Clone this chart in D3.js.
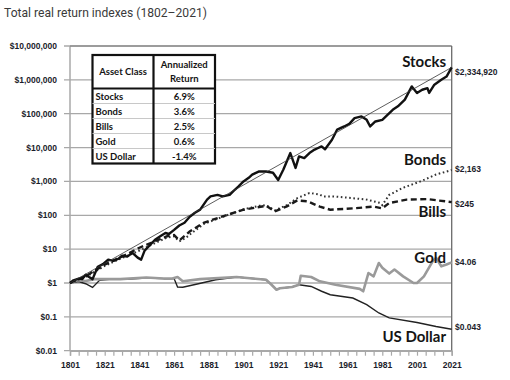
<!DOCTYPE html>
<html>
<head>
<meta charset="utf-8">
<script src="https://cdn.jsdelivr.net/npm/d3@7"></script>
<style>
  html, body { margin: 0; padding: 0; background: #fff; }
  svg { display: block; }
</style>
</head>
<body>
<svg id="chart" width="510" height="380"></svg>
<script>
// ---------------- DATA ----------------
const titleText = "Total real return indexes (1802\u20132021)";
const yTickValues = [0.01, 0.1, 1, 10, 100, 1000, 10000, 100000, 1000000, 10000000];
const yTickLabels = ["$0.01", "$0.1", "$1", "$10", "$100", "$1,000", "$10,000", "$100,000", "$1,000,000", "$10,000,000"];
const xLabelYears = [1801, 1821, 1841, 1861, 1881, 1901, 1921, 1941, 1961, 1981, 2001, 2021];

const stocks = [
  [1801,1.0],[1803,1.2],[1806,1.35],[1808,1.3],[1810,1.75],[1812,1.5],[1814,1.3],[1817,3.0],
  [1820,3.6],[1823,4.9],[1826,4.5],[1829,5.2],[1831,6.4],[1834,6.0],[1837,7.8],[1840,5.6],
  [1842,4.9],[1844,9.0],[1847,13],[1850,19],[1853,24],[1856,30],[1858,28],[1861,37],
  [1864,50],[1867,60],[1870,90],[1873,119],[1876,147],[1880,290],[1882,360],[1886,400],
  [1889,360],[1893,400],[1895,510],[1898,700],[1901,1000],[1904,1280],[1906,1590],[1910,1970],
  [1914,1970],[1918,1800],[1921,1100],[1924,2240],[1928,6900],[1931,2500],[1933,5500],
  [1936,4900],[1939,6900],[1942,8700],[1944,9700],[1946,10800],[1948,8900],[1952,17000],
  [1955,34000],[1959,42000],[1962,50000],[1965,74000],[1969,83000],[1972,66000],[1974,42000],
  [1977,59000],[1981,66000],[1984,93000],[1987,130000],[1990,165000],[1994,260000],
  [1998,640000],[2001,410000],[2004,510000],[2007,570000],[2008,410000],[2011,720000],
  [2015,1000000],[2018,1250000],[2021,2334920]
];
const bonds = [
  [1801,1],[1811,1.6],[1821,3.2],[1831,5.5],[1841,9],[1851,16],[1857,22],[1861,24],[1864,17],
  [1868,22],[1870,27],[1878,55],[1889,90],[1901,150],[1910,190],[1914,200],[1919,140],
  [1926,200],[1932,320],[1939,455],[1945,410],[1947,360],[1953,360],[1964,320],[1972,290],
  [1980,230],[1981,200],[1985,400],[1993,650],[2003,1000],[2012,1600],[2021,2163]
];
const bills = [
  [1801,1],[1811,1.7],[1821,3.5],[1831,6],[1841,11],[1851,18],[1857,24],[1861,26],[1864,18],
  [1870,33],[1878,60],[1889,93],[1901,146],[1914,190],[1919,130],[1926,183],[1932,275],
  [1938,257],[1945,180],[1951,146],[1964,160],[1976,180],[1981,160],[1985,230],[1995,290],
  [2007,300],[2021,245]
];
const gold = [
  [1801,1.0],[1805,1.2],[1810,1.15],[1815,1.3],[1820,1.3],[1830,1.3],[1840,1.4],[1845,1.45],
  [1850,1.4],[1855,1.35],[1860,1.35],[1863,1.5],[1866,1.12],[1876,1.3],[1897,1.5],[1914,1.25],
  [1917,0.9],[1920,0.63],[1922,0.7],[1929,0.76],[1933,0.89],[1934,1.64],[1940,1.5],[1945,1.12],
  [1954,0.89],[1968,0.67],[1970,0.57],[1973,1.97],[1976,1.57],[1979,3.9],[1981,2.8],[1985,1.9],
  [1988,2.5],[1993,1.57],[1999,1.0],[2001,1.0],[2005,1.57],[2010,4.35],[2012,5.5],[2015,3.1],
  [2018,3.5],[2021,4.06]
];
const usDollar = [
  [1801,1.0],[1806,1.1],[1810,0.95],[1814,0.74],[1818,1.2],[1825,1.3],[1835,1.3],[1845,1.4],
  [1855,1.35],[1861,1.35],[1863,0.76],[1866,0.75],[1875,0.95],[1885,1.25],[1897,1.5],[1914,1.25],
  [1917,0.9],[1920,0.63],[1922,0.7],[1929,0.76],[1933,0.89],[1940,0.79],[1946,0.57],[1951,0.45],
  [1964,0.36],[1972,0.23],[1979,0.13],[1985,0.093],[2001,0.068],[2012,0.052],[2021,0.043]
];
const trend = [[1801,1],[2021,2334920]];

const seriesNames = ["Stocks", "Bonds", "Bills", "Gold", "US Dollar"];
const endLabels = ["$2,334,920", "$2,163", "$245", "$4.06", "$0.043"];
const endValues = [2334920, 2163, 245, 4.06, 0.043];
const annualized = ["6.9%", "3.6%", "2.5%", "0.6%", "-1.4%"];

// ---------------- CHART ----------------
const svg = d3.select("#chart");
const pL = 70, pR = 451.7, pT = 46, pB = 350.7;
const x = d3.scaleLinear().domain([1801, 2021]).range([pL, pR]);
const y = d3.scaleLog().domain([0.01, 1e7]).range([pB, pT]);
const inkDark = "#1b1d2b";

svg.append("text").attr("x", 4).attr("y", 17)
  .attr("font-family", "Roboto").attr("font-size", 13.5).attr("fill", "#3a3a3a")
  .attr("textLength", 203).attr("lengthAdjust", "spacingAndGlyphs")
  .text(titleText);

// gridlines
svg.append("g").selectAll("line").data(yTickValues).join("line")
  .attr("x1", pL - 6).attr("x2", pR)
  .attr("y1", d => y(d)).attr("y2", d => y(d))
  .attr("stroke", "#a8a8a8").attr("stroke-width", 1.3);

// y labels
svg.append("g").selectAll("text").data(yTickValues).join("text")
  .attr("x", 57).attr("y", d => y(d)).attr("dy", "0.35em")
  .attr("text-anchor", "end")
  .attr("font-family", "Liberation Sans").attr("font-weight", "bold").attr("font-size", 8.5)
  .attr("fill", inkDark)
  .text((d, i) => yTickLabels[i]);

// frame
svg.append("line").attr("x1", pL).attr("x2", pL).attr("y1", pT).attr("y2", pB)
  .attr("stroke", "#a8a8a8").attr("stroke-width", 1.5);
svg.append("line").attr("x1", pL).attr("x2", pR).attr("y1", pT).attr("y2", pT)
  .attr("stroke", "#7a7a7a").attr("stroke-width", 1.2);
svg.append("line").attr("x1", pR).attr("x2", pR).attr("y1", pT).attr("y2", pB)
  .attr("stroke", "#6a6a6a").attr("stroke-width", 1.3);

// x axis
const xAxis = d3.axisBottom(x)
  .tickValues(d3.range(1801, 2022, 5))
  .tickSize(5)
  .tickFormat(d => xLabelYears.includes(d) ? String(d) : "");
const gx = svg.append("g").attr("transform", `translate(0,${pB})`).call(xAxis);
gx.select(".domain").attr("stroke", "#a8a8a8").attr("stroke-width", 1.5);
gx.selectAll(".tick line").attr("stroke", "#a8a8a8").attr("stroke-width", 1.2);
gx.selectAll(".tick text")
  .attr("font-family", "Liberation Sans").attr("font-weight", "bold").attr("font-size", 8.5)
  .attr("fill", inkDark).attr("y", 11);

const line = d3.line().x(d => x(d[0])).y(d => y(d[1])).curve(d3.curveLinear);

svg.append("path").datum(usDollar).attr("d", line)
  .attr("fill", "none").attr("stroke", "#222").attr("stroke-width", 1.4);
svg.append("path").datum(gold).attr("d", line)
  .attr("fill", "none").attr("stroke", "#9a9a9a").attr("stroke-width", 2.6)
  .attr("stroke-linejoin", "round");
svg.append("path").datum(bonds).attr("d", line)
  .attr("fill", "none").attr("stroke", "#333").attr("stroke-width", 2)
  .attr("stroke-dasharray", "1.6,2.6");
svg.append("path").datum(bills).attr("d", line)
  .attr("fill", "none").attr("stroke", "#1a1a1a").attr("stroke-width", 2.4)
  .attr("stroke-dasharray", "6,3.5");
svg.append("path").datum(stocks).attr("d", line)
  .attr("fill", "none").attr("stroke", "#111").attr("stroke-width", 2.4)
  .attr("stroke-linejoin", "round");
svg.append("path").datum(trend).attr("d", line)
  .attr("fill", "none").attr("stroke", "#333").attr("stroke-width", 0.8);

// series labels (inside right)
const nameY = [67, 165, 217, 263, 342];
svg.append("g").selectAll("text").data(seriesNames).join("text")
  .attr("x", 446).attr("y", (d, i) => nameY[i])
  .attr("text-anchor", "end")
  .attr("font-family", "Lato").attr("font-weight", "bold").attr("font-size", 15)
  .attr("fill", "#151515")
  .text(d => d);

// end value labels
svg.append("g").selectAll("text").data(endLabels).join("text")
  .attr("x", 455).attr("y", (d, i) => y(endValues[i]) + [5, -1, 2, 0, -2][i])
  .attr("dy", "0.35em")
  .attr("font-family", "Liberation Sans").attr("font-weight", "bold").attr("font-size", 8.5)
  .attr("fill", inkDark)
  .text(d => d);

// table
const tx0 = 92.5, tx1 = 153.5, tx2 = 215, ty0 = 55, tyH = 88.5, rowH = 15;
const tg = svg.append("g");
tg.append("rect").attr("x", tx0).attr("y", ty0).attr("width", tx2 - tx0).attr("height", tyH - ty0 + rowH * 5)
  .attr("fill", "#fff").attr("stroke", "#111").attr("stroke-width", 2.2);
tg.selectAll("line.row").data(d3.range(1, 5)).join("line").attr("class", "row")
  .attr("x1", tx0).attr("x2", tx2)
  .attr("y1", i => tyH + i * rowH).attr("y2", i => tyH + i * rowH)
  .attr("stroke", "#c8c8c8").attr("stroke-width", 1);
tg.append("line").attr("x1", tx0).attr("x2", tx2).attr("y1", tyH).attr("y2", tyH)
  .attr("stroke", "#111").attr("stroke-width", 2.2);
tg.append("line").attr("x1", tx1).attr("x2", tx1).attr("y1", ty0).attr("y2", tyH + rowH * 5)
  .attr("stroke", "#111").attr("stroke-width", 2.2);
const tf = t => t.attr("font-family", "Lato").attr("font-weight", "bold").attr("font-size", 9.5).attr("fill", "#151515");
tf(tg.append("text").attr("x", (tx0 + tx1) / 2).attr("y", 75).attr("text-anchor", "middle").text("Asset Class"));
tf(tg.append("text").attr("x", (tx1 + tx2) / 2).attr("y", 68).attr("text-anchor", "middle").text("Annualized"));
tf(tg.append("text").attr("x", (tx1 + tx2) / 2).attr("y", 82).attr("text-anchor", "middle").text("Return"));
seriesNames.forEach((n, i) => {
  tf(tg.append("text").attr("x", tx0 + 3).attr("y", tyH + i * rowH + 11).text(n));
  tf(tg.append("text").attr("x", (tx1 + tx2) / 2).attr("y", tyH + i * rowH + 11).attr("text-anchor", "middle").text(annualized[i]));
});
</script>
</body>
</html>
